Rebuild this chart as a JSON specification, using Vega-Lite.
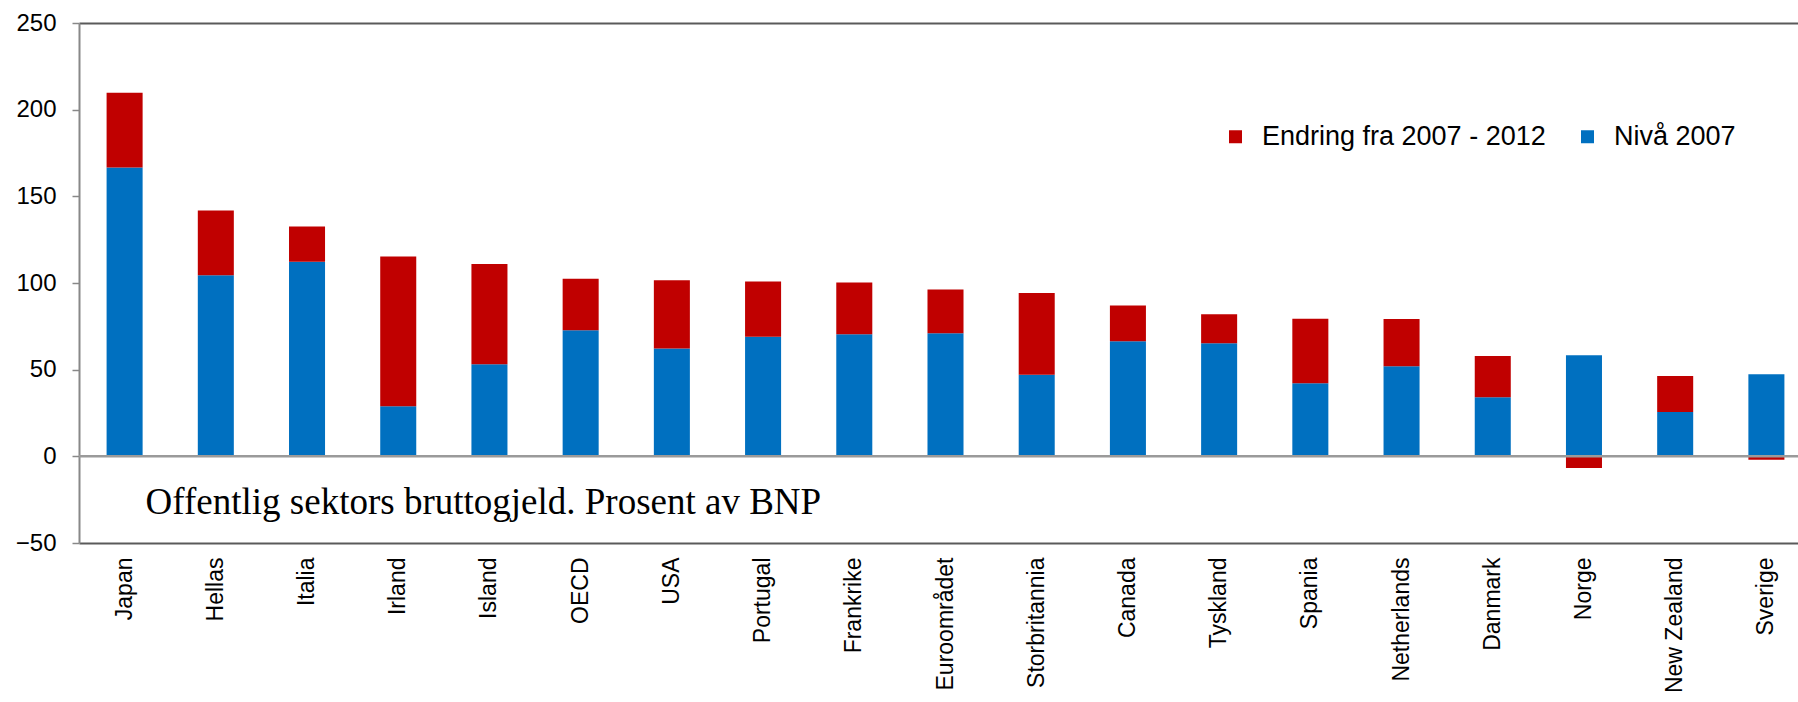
{
  "$schema": "https://vega.github.io/schema/vega-lite/v6.json",
  "autosize": "none",
  "width": 1719,
  "height": 520,
  "padding": {"left": 79, "top": 23, "right": 0, "bottom": 159},
  "background": "white",
  "config": {
    "view": {"stroke": null},
    "font": "Liberation Sans"
  },
  "datasets": {
    "debt": [
      {"land": "Japan", "serie": "Nivå 2007", "verdi": 166.6, "ord": 1},
      {"land": "Japan", "serie": "Endring fra 2007 - 2012", "verdi": 43.2, "ord": 2},
      {"land": "Hellas", "serie": "Nivå 2007", "verdi": 104.5, "ord": 1},
      {"land": "Hellas", "serie": "Endring fra 2007 - 2012", "verdi": 37.3, "ord": 2},
      {"land": "Italia", "serie": "Nivå 2007", "verdi": 112.2, "ord": 1},
      {"land": "Italia", "serie": "Endring fra 2007 - 2012", "verdi": 20.4, "ord": 2},
      {"land": "Irland", "serie": "Nivå 2007", "verdi": 28.9, "ord": 1},
      {"land": "Irland", "serie": "Endring fra 2007 - 2012", "verdi": 86.4, "ord": 2},
      {"land": "Island", "serie": "Nivå 2007", "verdi": 53.1, "ord": 1},
      {"land": "Island", "serie": "Endring fra 2007 - 2012", "verdi": 57.8, "ord": 2},
      {"land": "OECD", "serie": "Nivå 2007", "verdi": 72.7, "ord": 1},
      {"land": "OECD", "serie": "Endring fra 2007 - 2012", "verdi": 29.7, "ord": 2},
      {"land": "USA", "serie": "Nivå 2007", "verdi": 62.2, "ord": 1},
      {"land": "USA", "serie": "Endring fra 2007 - 2012", "verdi": 39.4, "ord": 2},
      {"land": "Portugal", "serie": "Nivå 2007", "verdi": 69.0, "ord": 1},
      {"land": "Portugal", "serie": "Endring fra 2007 - 2012", "verdi": 31.9, "ord": 2},
      {"land": "Frankrike", "serie": "Nivå 2007", "verdi": 70.4, "ord": 1},
      {"land": "Frankrike", "serie": "Endring fra 2007 - 2012", "verdi": 29.9, "ord": 2},
      {"land": "Euroområdet", "serie": "Nivå 2007", "verdi": 71.0, "ord": 1},
      {"land": "Euroområdet", "serie": "Endring fra 2007 - 2012", "verdi": 25.3, "ord": 2},
      {"land": "Storbritannia", "serie": "Nivå 2007", "verdi": 47.1, "ord": 1},
      {"land": "Storbritannia", "serie": "Endring fra 2007 - 2012", "verdi": 47.2, "ord": 2},
      {"land": "Canada", "serie": "Nivå 2007", "verdi": 66.4, "ord": 1},
      {"land": "Canada", "serie": "Endring fra 2007 - 2012", "verdi": 20.6, "ord": 2},
      {"land": "Tyskland", "serie": "Nivå 2007", "verdi": 65.2, "ord": 1},
      {"land": "Tyskland", "serie": "Endring fra 2007 - 2012", "verdi": 16.7, "ord": 2},
      {"land": "Spania", "serie": "Nivå 2007", "verdi": 42.2, "ord": 1},
      {"land": "Spania", "serie": "Endring fra 2007 - 2012", "verdi": 37.2, "ord": 2},
      {"land": "Netherlands", "serie": "Nivå 2007", "verdi": 52.0, "ord": 1},
      {"land": "Netherlands", "serie": "Endring fra 2007 - 2012", "verdi": 27.2, "ord": 2},
      {"land": "Danmark", "serie": "Nivå 2007", "verdi": 34.1, "ord": 1},
      {"land": "Danmark", "serie": "Endring fra 2007 - 2012", "verdi": 23.8, "ord": 2},
      {"land": "Norge", "serie": "Nivå 2007", "verdi": 58.3, "ord": 1},
      {"land": "Norge", "serie": "Endring fra 2007 - 2012", "verdi": -6.8, "ord": 2},
      {"land": "New Zealand", "serie": "Nivå 2007", "verdi": 25.6, "ord": 1},
      {"land": "New Zealand", "serie": "Endring fra 2007 - 2012", "verdi": 20.8, "ord": 2},
      {"land": "Sverige", "serie": "Nivå 2007", "verdi": 47.3, "ord": 1},
      {"land": "Sverige", "serie": "Endring fra 2007 - 2012", "verdi": -2.0, "ord": 2}
    ],
    "note": [
      {"land": "Japan", "y": -33, "tekst": "Offentlig sektors bruttogjeld. Prosent av BNP"}
    ],
    "zero": [{"y": 0}]
  },
  "layer": [
    {
      "data": {"name": "debt"},
      "mark": {"type": "bar"},
      "encoding": {
        "x": {
          "field": "land",
          "type": "nominal",
          "sort": null,
          "scale": {
            "domain": ["Japan", "Hellas", "Italia", "Irland", "Island", "OECD", "USA", "Portugal", "Frankrike", "Euroområdet", "Storbritannia", "Canada", "Tyskland", "Spania", "Netherlands", "Danmark", "Norge", "New Zealand", "Sverige"],
            "range": [0, 1733], "paddingInner": 0.605, "paddingOuter": 0.3025
          },
          "axis": {
            "orient": "bottom",
            "title": null,
            "labelAngle": -90,
            "labelFontSize": 23,
            "labelColor": "#000000",
            "labelPadding": 14,
            "ticks": false,
            "domainColor": "#5a5a5a",
            "domainWidth": 2,
            "labelOverlap": false
          }
        },
        "y": {
          "field": "verdi",
          "type": "quantitative",
          "stack": "zero",
          "scale": {"domain": [-50, 250], "nice": false, "zero": false},
          "axis": {
            "title": null,
            "values": [-50, 0, 50, 100, 150, 200, 250],
            "grid": false,
            "labelFontSize": 24,
            "labelColor": "#000000",
            "labelPadding": 16,
            "tickSize": 7,
            "tickColor": "#888888",
            "tickWidth": 1.5,
            "domainColor": "#888888",
            "domainWidth": 2
          }
        },
        "color": {
          "field": "serie",
          "type": "nominal",
          "scale": {
            "domain": ["Endring fra 2007 - 2012", "Nivå 2007"],
            "range": ["#C00000", "#0070C0"]
          },
          "legend": {
            "title": null,
            "orient": "none",
            "direction": "horizontal",
            "legendX": 1143,
            "legendY": 100,
            "symbolType": "square",
            "symbolSize": 169,
            "symbolStrokeWidth": 0,
            "labelFontSize": 27,
            "labelColor": "#000000",
            "labelOffset": 13,
            "columnPadding": 28,
            "labelLimit": 0
          }
        },
        "order": {"field": "ord", "type": "quantitative"}
      }
    },
    {
      "data": {"name": "zero"},
      "mark": {"type": "rule", "color": "#9a9a9a", "strokeWidth": 2.5},
      "encoding": {
        "y": {"field": "y", "type": "quantitative"}
      }
    },
    {
      "data": {"name": "note"},
      "mark": {"type": "text", "align": "left", "baseline": "alphabetic", "dx": 21, "font": "Liberation Serif", "fontSize": 37, "color": "#000000"},
      "encoding": {
        "x": {
          "field": "land",
          "type": "nominal",
          "sort": null,
          "axis": {"orient": "top", "title": null, "labels": false, "ticks": false, "domainColor": "#5a5a5a", "domainWidth": 2}
        },
        "y": {"field": "y", "type": "quantitative"},
        "text": {"field": "tekst"}
      }
    }
  ],
  "resolve": {"axis": {"x": "independent"}}
}
